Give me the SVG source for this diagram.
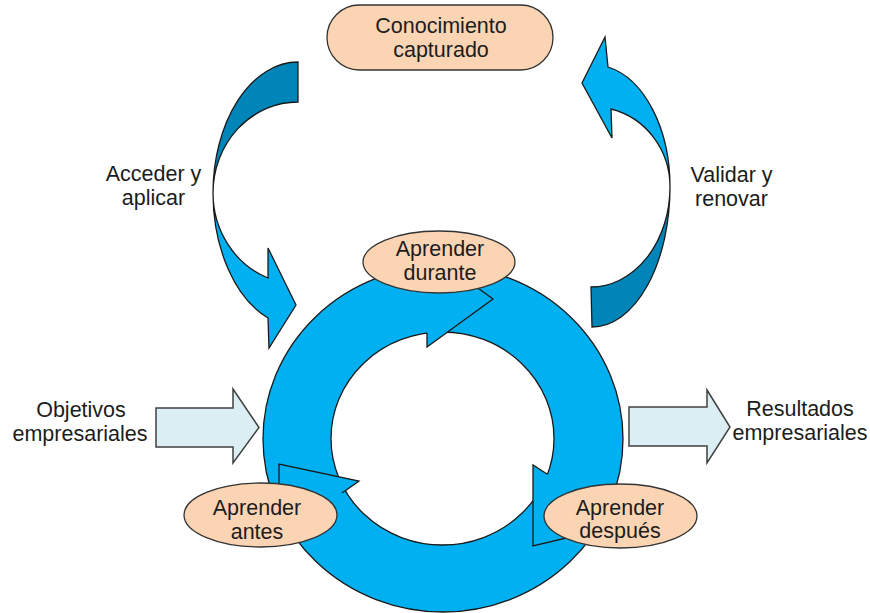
<svg xmlns="http://www.w3.org/2000/svg" width="870" height="613" viewBox="0 0 870 613">
<style>
.t{font-family:"Liberation Sans",Arial,sans-serif;font-size:21.5px;fill:#1c1c1c;text-anchor:middle}
.lbl{fill:#FBD4B4;stroke:#333;stroke-width:1.3}
.ring{fill:#00B0F0;stroke:#1a1a1a;stroke-width:1.3}
.hole{fill:#fff;stroke:#1a1a1a;stroke-width:1.3}
.head{fill:#00B0F0;stroke:none}
.edge{fill:none;stroke:#1a1a1a;stroke-width:1.3}
.lt{fill:#00B0F0;stroke:#1a1a1a;stroke-width:1.3}
.dk{fill:#0085B9;stroke:#1a1a1a;stroke-width:1.3}
.blk{fill:#DBEEF4;stroke:#404040;stroke-width:1.5}
</style>
<rect width="870" height="613" fill="#fff"/>
<g id="connectors">
  <g id="cycle-ring">
    <ellipse class="ring" cx="443" cy="439" rx="180" ry="173"/>
    <ellipse class="hole" cx="442.5" cy="438.5" rx="111.5" ry="106.5"/>
    <polygon class="head" points="427,251 493,299 427,347"/>
    <polyline class="edge" points="427,333 427,347 493,299 427,251"/>
    <polygon class="head" points="533,465 533,546 625,524"/>
    <polyline class="edge" points="547,474 533,465 533,546 625,524"/>
    <polygon class="head" points="359,481 279,464 279,540"/>
    <polyline class="edge" points="342,493 359,481 279,464 279,540"/>
  </g>
  <g id="arrow-acceder">
    <path class="dk" d="M298,62 A85,131 0 0 0 213,193 A85,91 0 0 1 298,102 Z"/>
    <path class="lt" d="M213,193 A85,134 0 0 0 268,318 L269,348 L296,305 L268,248 L268,278 A85,91 0 0 1 213,193 Z"/>
  </g>
  <g id="arrow-validar">
    <path class="lt" d="M608,67 A77,122 0 0 1 670,187 A77,80 0 0 0 611,109 L612,138 L582,83 L605,37 Z"/>
    <path class="dk" d="M670,187 A78,140 0 0 1 592,327 L591,287 A79,100 0 0 0 670,187 Z"/>
  </g>
  <polygon id="arrow-objetivos" class="blk" points="156,408 233,408 233,389 259,427.5 233,463 233,447 156,447"/>
  <polygon id="arrow-resultados" class="blk" points="629,407 707,407 707,390 730,427 707,463 707,446 629,446"/>
</g>
<g id="node-conocimiento">
  <rect class="lbl" x="327" y="5" width="226" height="65" rx="32.5"/>
  <text class="t" x="441" y="33">Conocimiento</text>
  <text class="t" x="441" y="57">capturado</text>
</g>
<g id="node-durante">
  <ellipse class="lbl" cx="439" cy="262" rx="76" ry="31"/>
  <text class="t" x="440" y="256">Aprender</text>
  <text class="t" x="440" y="280">durante</text>
</g>
<g id="node-antes">
  <ellipse class="lbl" cx="260.5" cy="515" rx="76.5" ry="32"/>
  <text class="t" x="257" y="515">Aprender</text>
  <text class="t" x="257" y="539">antes</text>
</g>
<g id="node-despues">
  <ellipse class="lbl" cx="620.5" cy="516" rx="76.5" ry="32"/>
  <text class="t" x="620" y="515">Aprender</text>
  <text class="t" x="620" y="538">después</text>
</g>
<g id="node-objetivos">
  <text class="t" x="81" y="417">Objetivos</text>
  <text class="t" x="80" y="441">empresariales</text>
</g>
<g id="node-resultados">
  <text class="t" x="800" y="416">Resultados</text>
  <text class="t" x="800" y="440">empresariales</text>
</g>
<g id="label-acceder">
  <text class="t" x="153.5" y="181">Acceder y</text>
  <text class="t" x="153.5" y="205">aplicar</text>
</g>
<g id="label-validar">
  <text class="t" x="731.5" y="182">Validar y</text>
  <text class="t" x="731.5" y="206">renovar</text>
</g>
</svg>
